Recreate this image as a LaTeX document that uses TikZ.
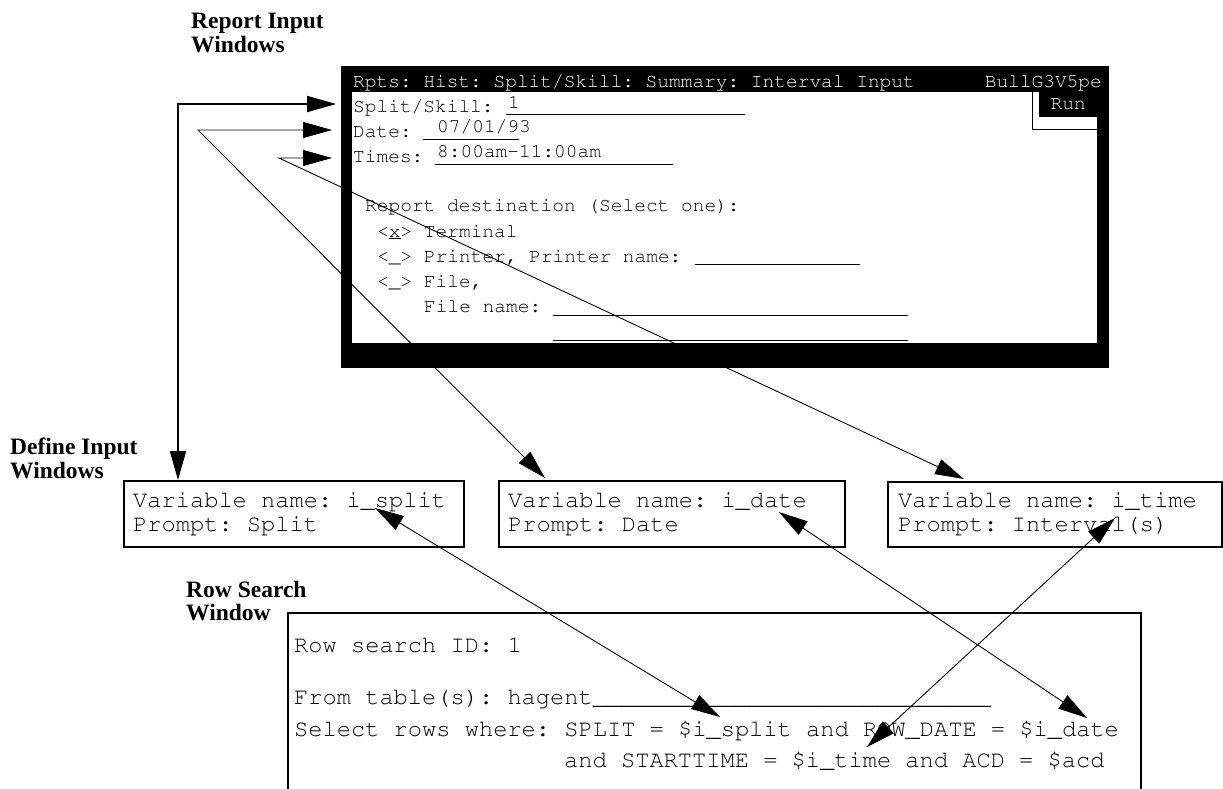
\documentclass[tikz,border=0pt]{standalone}
\usepackage[T1]{fontenc}
\usepackage{fontspec}
\setmainfont{Liberation Serif}
\usetikzlibrary{arrows.meta}

\newcommand{\capfont}{\bfseries\fontsize{23.5}{23.5}\selectfont}
\newcommand{\scrfont}{\fontencoding{T1}\fontfamily{pcr}\fontsize{19.5}{25}\selectfont
    \frenchspacing\spaceskip=\fontdimen2\font\relax}
\newcommand{\varfont}{\fontencoding{T1}\fontfamily{pcr}\fontsize{23.7}{24}\selectfont
    \frenchspacing\spaceskip=\fontdimen2\font\relax}

\begin{document}
\begin{tikzpicture}[x=1pt, y=-1pt,
        caption/.style={font=\capfont, anchor=base west, inner sep=0pt},
        scr/.style={font=\scrfont, anchor=base west, inner sep=0pt},
        vtext/.style={font=\varfont, anchor=base west, inner sep=0pt},
        varbox/.style={draw, line width=2pt, anchor=north west, inner sep=0pt},
        rule/.style={line width=1pt},
        link/.style={{Triangle[length=29pt,width=16pt]}-{Triangle[length=29pt,width=16pt]},
                     line width=0.9pt}]
        \useasboundingbox (0,0) rectangle (1223,788);

        % captions
        \node[caption] (rptcap) at (191,28) {Report Input};
        \node[caption] (rptcap2) at (191,52) {Windows};
        \node[caption] (defcap) at (10,454) {Define Input};
        \node[caption] (defcap2) at (10,478) {Windows};
        \node[caption] (rowcap) at (186,597) {Row Search};
        \node[caption] (rowcap2) at (186,620) {Window};

        % report input screen
        \node[fill=black, minimum width=768pt, minimum height=302pt,
              inner sep=0pt, anchor=north west] (screen) at (341,66) {};
        \node[fill=white, minimum width=745pt, minimum height=251pt,
              inner sep=0pt, anchor=north west] (panel) at (352,92) {};
        \node[scr, text=white] (title) at (353,87) {Rpts: Hist: Split/Skill: Summary: Interval Input};
        \node[scr, text=white, anchor=base east] (host) at (1102,87) {BullG3V5pe};
        \node[fill=black, text=white, font=\scrfont, minimum width=58pt, minimum height=25pt,
              inner sep=0pt, anchor=north west] (run) at (1039,92) {Run};
        \draw[rule] (1032.5,92) -- (1032.5,129) -- (1097,129);

        \node[scr] (splitlbl) at (353,112) {Split/Skill:};
        \node[scr] (splitval) at (508,108) {1};
        \draw[rule] (506,114) -- (745,114);
        \node[scr] (datelbl) at (353,137) {Date:};
        \node[scr] (dateval) at (437,132) {07/01/93};
        \draw[rule] (423,139) -- (519,139);
        \node[scr] (timelbl) at (353,162) {Times:};
        \node[scr] (timeval) at (437,157) {8:00am-11:00am};
        \draw[rule] (435,164) -- (673,164);
        \node[scr] (dest) at (365,211) {Report destination (Select one):};
        \node[scr] (term) at (377,237) {<\underline{x}> Terminal};
        \node[scr] (prn) at (377,262) {<\_> Printer, Printer name:};
        \draw[rule] (695,264) -- (860,264);
        \node[scr] (file) at (377,287) {<\_> File,};
        \node[scr] (fname) at (424,312) {File name:};
        \draw[rule] (553,315) -- (908,315);
        \draw[rule] (553,340) -- (908,340);

        % define input windows
        \node[varbox, minimum width=340pt, minimum height=66pt] (splitbox) at (123,480) {};
        \node[vtext] (splitname) at (133,507) {Variable name: i\_split};
        \node[vtext] (splitprompt) at (133,531) {Prompt: Split};
        \node[varbox, minimum width=346pt, minimum height=66pt] (datebox) at (498,480) {};
        \node[vtext] (datename) at (508,507) {Variable name: i\_date};
        \node[vtext] (dateprompt) at (508,531) {Prompt: Date};
        \node[varbox, minimum width=334pt, minimum height=65pt] (timebox) at (887,481) {};
        \node[vtext] (timename) at (898,507) {Variable name: i\_time};
        \node[vtext] (timeprompt) at (898,531) {Prompt: Interval(s)};

        % row search window
        \node[varbox, minimum width=853pt, minimum height=200pt] (rowbox) at (287,612) {};
        \node[vtext] (rowid) at (294,652) {Row search ID: 1};
        \node[vtext] (fromtab) at (294,704)
            {From table(s): hagent\_\_\_\_\_\_\_\_\_\_\_\_\_\_\_\_\_\_\_\_\_\_\_\_\_\_\_\_};
        \node[vtext] (selrows) at (294,736)
            {Select rows where: SPLIT = \$i\_split and ROW\_DATE = \$i\_date};
        \node[vtext] (selmore) at (564,767) {and STARTTIME = \$i\_time and ACD = \$acd};

        % connector ends
        \coordinate (splitin) at (336,104);
        \coordinate (splitbend) at (178,104);
        \coordinate (splitdown) at (splitbend |- splitbox.north);
        \coordinate (datein) at (332,130);
        \coordinate (datebend) at (198,130);
        \coordinate (datedown) at (545,478);
        \coordinate (timein) at (332,158);
        \coordinate (timebend) at (279,158);
        \coordinate (timedown) at (964,479);
        \coordinate (splitvar) at (375,508);
        \coordinate (splitsel) at (720,717);
        \coordinate (datevar) at (779,512);
        \coordinate (datesel) at (1087,718);
        \coordinate (timevar) at (1115,518);
        \coordinate (timesel) at (867,747);

        \draw[link, line width=2pt] (splitdown) -- (splitbend) -- (splitin);
        \foreach \s/\m/\t in {datedown/datebend/datein, timedown/timebend/timein} {
        \draw[link] (\s) -- (\m) -- (\t);}
        \foreach \s/\t in {splitvar/splitsel, datevar/datesel, timevar/timesel} {
        \draw[link] (\s) -- (\t);}
\end{tikzpicture}
\end{document}
